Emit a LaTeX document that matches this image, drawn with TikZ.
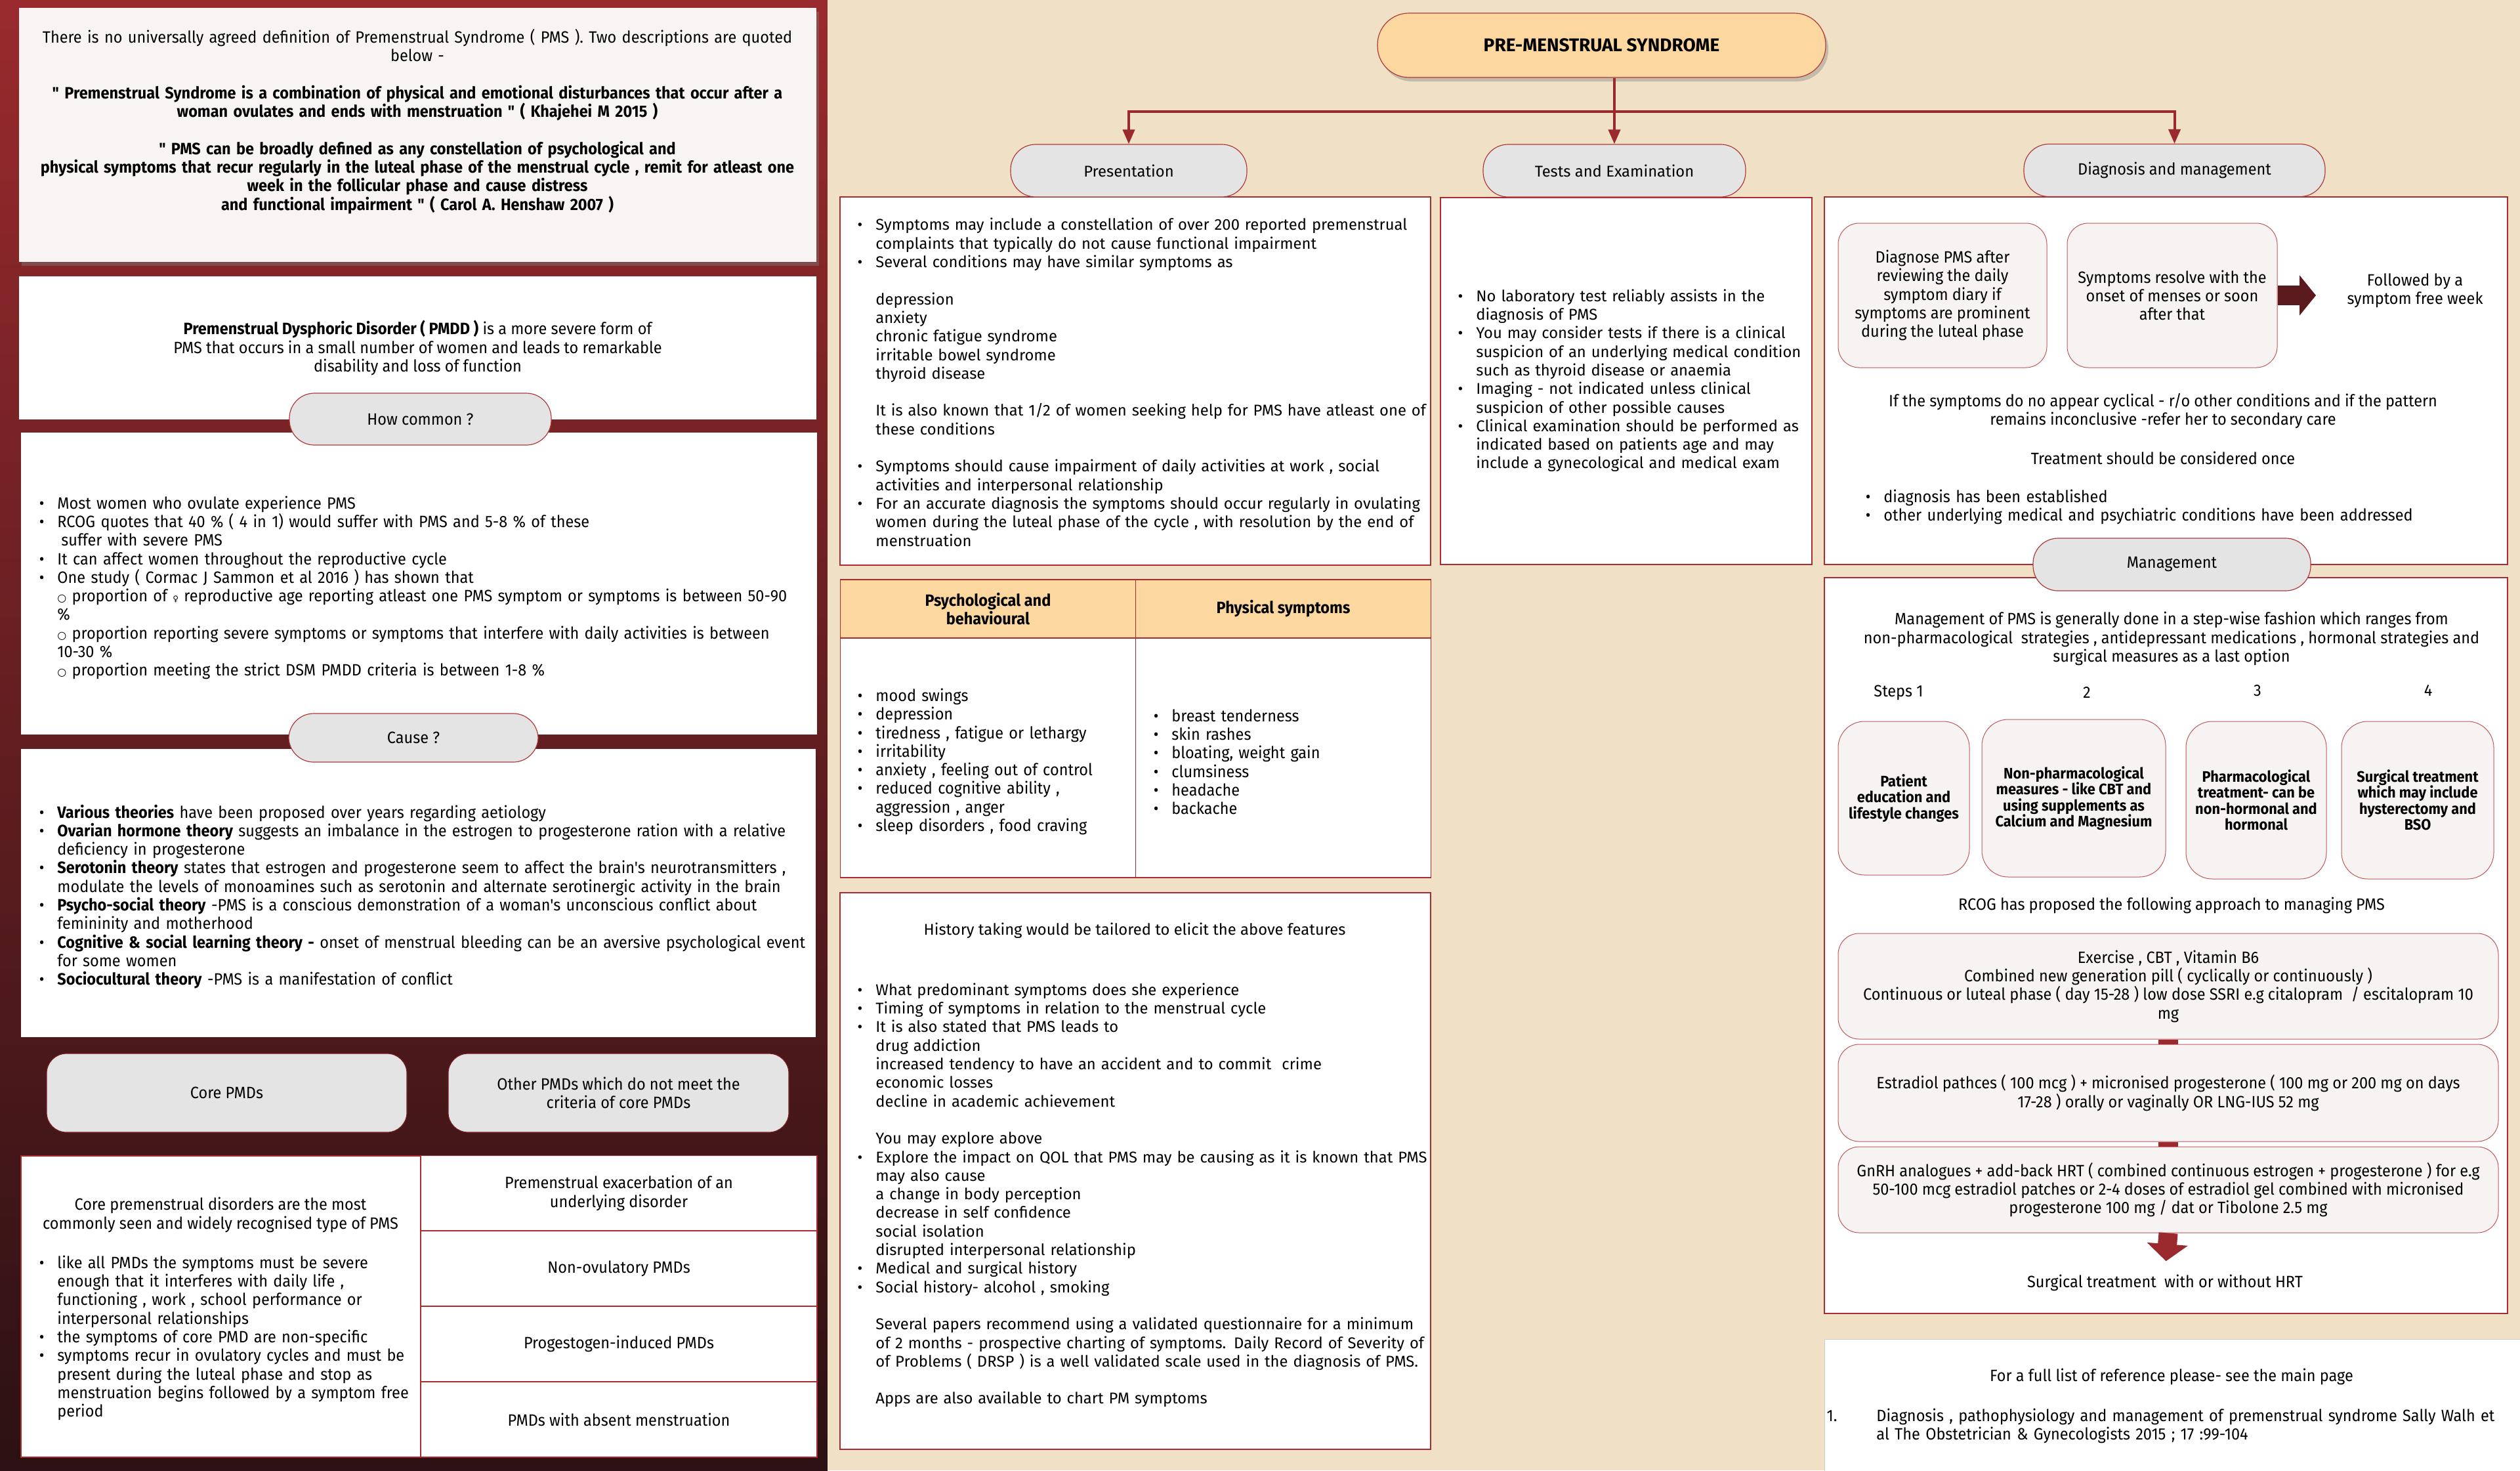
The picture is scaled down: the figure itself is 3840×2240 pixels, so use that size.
\documentclass[tikz,border=0pt]{standalone}
\usepackage{fontspec}
\setmainfont{Fira Sans}
\newfontfamily\condfont[FakeStretch=0.94]{Fira Sans}
\newfontfamily\symfont{DejaVu Sans}
\usepackage{enumitem}
\setlist[itemize]{label=\textbullet, leftmargin=15pt, labelsep=10pt, itemsep=0pt, topsep=0pt, parsep=0pt, partopsep=0pt}
\usetikzlibrary{arrows.meta, shadows}

\definecolor{lefttop}{RGB}{153,42,45}
\definecolor{leftbot}{RGB}{43,17,19}
\definecolor{beige}{RGB}{240,225,198}
\definecolor{offwhite}{RGB}{249,244,244}
\definecolor{boxred}{RGB}{168,44,48}
\definecolor{pillred}{RGB}{176,58,58}
\definecolor{pillgray}{RGB}{228,228,228}
\definecolor{peach}{RGB}{253,215,160}
\definecolor{softpink}{RGB}{248,243,243}
\definecolor{softred}{RGB}{190,90,90}
\definecolor{arrowred}{RGB}{154,42,46}
\definecolor{darkarrow}{RGB}{91,26,29}

\newcommand{\condtxt}{\condfont\fontsize{12.5}{14.15}\selectfont}
\newcommand{\plaintxt}{\fontsize{11.9}{14.15}\selectfont}
\newcommand{\steptxt}{\condfont\bfseries\fontsize{11.6}{12.25}\selectfont}
\newcommand{\circbul}{{\symfont\fontsize{8}{14.15}\selectfont ○}}
\newcommand{\femsym}{{\symfont\fontsize{6}{14.15}\selectfont ♀}}
\newcommand{\gap}{\\[14.15pt]}

\tikzset{
  panel/.style={draw=boxred, fill=white, line width=0.6pt, inner sep=0pt},
  cell/.style={draw=boxred, fill=white, line width=0.6pt, inner sep=0pt, align=center, font=\condtxt},
  pill/.style={draw=pillred, fill=pillgray, line width=0.6pt, rounded corners=19pt, inner sep=0pt, font=\condtxt},
  corepill/.style={draw=boxred!70!black, fill=pillgray, line width=0.6pt, rounded corners=15pt, inner sep=0pt, align=center, font=\condtxt},
  softbox/.style={draw=softred, fill=softpink, line width=0.5pt, rounded corners=16pt, inner sep=0pt, align=center, font=\condtxt},
  stepbox/.style={softbox, rounded corners=20pt, font=\steptxt},
  txt/.style={inner sep=0pt, align=center, font=\condtxt},
  listtxt/.style={inner sep=0pt, anchor=west, text width=#1, align=left, font=\condtxt},
  flow/.style={draw=arrowred, line width=2pt, -{Triangle[width=9pt,length=11pt]}},
  fatarrow/.style={draw=darkarrow, line width=15pt, -{Triangle[width=30pt,length=12.5pt]}},
  downarrow/.style={draw=arrowred, line width=14.5pt, -{Triangle[width=30.5pt,length=13pt]}},
  joiner/.style={draw=arrowred, line width=15pt},
  shadowed/.style={drop shadow={opacity=0.4, shadow xshift=2pt, shadow yshift=-3pt}}
}

\begin{document}
\begin{tikzpicture}[x=0.5pt, y=-0.5pt]
\useasboundingbox (0,0) rectangle (3840,2240);

% backgrounds
\shade[top color=lefttop, bottom color=leftbot] (0,0) rectangle (1261,2240);
\fill[beige] (1261,0) rectangle (3840,2240);

% ---------------- left column ----------------
\node[panel, draw=none, fill=offwhite, shadowed, minimum width=607.5pt, minimum height=193.5pt] (defbox) at (636.5,205.5) {};
\node[txt, text width=600pt] (deftext) at (636,185) {There is no universally agreed definition of Premenstrual Syndrome ( PMS ). Two descriptions are quoted\\
below -\gap
\textbf{" Premenstrual Syndrome is a combination of physical and emotional disturbances that occur after a}\\
\textbf{woman ovulates and ends with menstruation " ( Khajehei M 2015 )}\gap
\textbf{" PMS can be broadly defined as any constellation of psychological and}\\
\textbf{physical symptoms that recur regularly in the luteal phase of the menstrual cycle , remit for atleast one}\\
\textbf{week in the follicular phase and cause distress}\\
\textbf{and functional impairment " ( Carol A. Henshaw 2007 )}};

\node[panel, draw=none, minimum width=607.5pt, minimum height=109pt, align=center, font=\condtxt] (pmddbox) at (636.5,530)
  {\textbf{Premenstrual Dysphoric Disorder ( PMDD )} is a more severe form of\\
   PMS that occurs in a small number of women and leads to remarkable\\
   disability and loss of function};

% how common
\node[panel, draw=none, minimum width=606.5pt, minimum height=230pt] (commonbox) at (638.5,889) {};
\node[listtxt=640pt] (commontext) at (57,891) {\begin{itemize}
\item Most women who ovulate experience PMS
\item RCOG quotes that 40 \% ( 4 in 1) would suffer with PMS and 5-8 \% of these\\ \hspace*{3pt}suffer with severe PMS
\item It can affect women throughout the reproductive cycle
\item One study ( Cormac J Sammon et al 2016 ) has shown that\\
\circbul{} proportion of \femsym{} reproductive age reporting atleast one PMS symptom or symptoms is between 50-90\\
\%\\
\circbul{} proportion reporting severe symptoms or symptoms that interfere with daily activities is between\\
10-30 \%\\
\circbul{} proportion meeting the strict DSM PMDD criteria is between 1-8 \%
\end{itemize}};
\node[pill, minimum width=199.5pt, minimum height=39.5pt] (commonpill) at (640.5,638.5) {How common ?};

% cause
\node[panel, draw=none, minimum width=605.5pt, minimum height=219.5pt] (causebox) at (637.5,1360.5) {};
\node[listtxt=640pt] (causetext) at (57,1362) {\begin{itemize}
\item \textbf{Various theories} have been proposed over years regarding aetiology
\item \textbf{Ovarian hormone theory} suggests an imbalance in the estrogen to progesterone ration with a relative\\ deficiency in progesterone
\item \textbf{Serotonin theory} states that estrogen and progesterone seem to affect the brain's neurotransmitters ,\\ modulate the levels of monoamines such as serotonin and alternate serotinergic activity in the brain
\item \textbf{Psycho-social theory} -PMS is a conscious demonstration of a woman's unconscious conflict about\\ femininity and motherhood
\item \textbf{Cognitive \& social learning theory -} onset of menstrual bleeding can be an aversive psychological event\\ for some women
\item \textbf{Sociocultural theory} -PMS is a manifestation of conflict
\end{itemize}};
\node[pill, minimum width=190pt, minimum height=37pt] (causepill) at (630,1124) {Cause ?};

% core and other PMDs
\node[corepill, minimum width=274.5pt, minimum height=60pt] (corepmd) at (345.5,1665) {Core PMDs};
\node[corepill, minimum width=259.5pt, minimum height=60pt] (otherpmd) at (942.5,1665) {Other PMDs which do not meet the\\ criteria of core PMDs};

\node[cell, minimum width=304.5pt, minimum height=229.5pt] (corecell) at (336.5,1990.5) {};
\node[txt] (corehead) at (336,1851) {Core premenstrual disorders are the most\\ commonly seen and widely recognised type of PMS};
\node[listtxt=300pt] (corelist) at (57,2034) {\begin{itemize}
\item like all PMDs the symptoms must be severe\\ enough that it interferes with daily life ,\\ functioning , work , school performance or\\ interpersonal relationships
\item the symptoms of core PMD are non-specific
\item symptoms recur in ovulatory cycles and must be\\ present during the luteal phase and stop as\\ menstruation begins followed by a symptom free\\ period
\end{itemize}};
\foreach \n/\y/\t in {exac/1818/{Premenstrual exacerbation of an\\ underlying disorder},
                      nonov/1932.5/{Non-ovulatory PMDs},
                      progest/2047.5/{Progestogen-induced PMDs},
                      absent/2162.5/{PMDs with absent menstruation}}
  \node[cell, minimum width=302pt, minimum height=57.5pt] (\n) at (943,\y) {\t};

% ---------------- right part ----------------
\node[pill, fill=peach, shadowed, rounded corners=24pt, minimum width=341.5pt, minimum height=49pt, font=\fontsize{14}{16}\selectfont\bfseries] (title) at (2440.5,69) {PRE-MENSTRUAL SYNDROME};

% presentation
\node[panel, minimum width=450pt, minimum height=280.5pt] (presbox) at (1730,580.5) {};
\node[listtxt=470pt, font=\plaintxt] (prestext) at (1304,577.5) {\begin{itemize}
\item Symptoms may include a constellation of over 200 reported premenstrual\\ complaints that typically do not cause functional impairment
\item Several conditions may have similar symptoms as\gap
depression\\ anxiety\\ chronic fatigue syndrome\\ irritable bowel syndrome\\ thyroid disease\gap
It is also known that 1/2 of women seeking help for PMS have atleast one of\\ these conditions\vspace{14.15pt}
\item Symptoms should cause impairment of daily activities at work , social\\ activities and interpersonal relationship
\item For an accurate diagnosis the symptoms should occur regularly in ovulating\\ women during the luteal phase of the cycle , with resolution by the end of\\ menstruation
\end{itemize}};

% tests
\node[panel, minimum width=283pt, minimum height=279.5pt] (testsbox) at (2478,580.5) {};
\node[listtxt=290pt, font=\plaintxt] (teststext) at (2219,575) {\begin{itemize}
\item No laboratory test reliably assists in the\\ diagnosis of PMS
\item You may consider tests if there is a clinical\\ suspicion of an underlying medical condition\\ such as thyroid disease or anaemia
\item Imaging - not indicated unless clinical\\ suspicion of other possible causes
\item Clinical examination should be performed as\\ indicated based on patients age and may\\ include a gynecological and medical exam
\end{itemize}};

% diagnosis
\node[panel, minimum width=520.5pt, minimum height=280pt] (diagbox) at (3300.5,580) {};
\node[softbox, minimum width=159pt, minimum height=110pt] (diagnose) at (2960,450) {Diagnose PMS after\\ reviewing the daily\\ symptom diary if\\ symptoms are prominent\\ during the luteal phase};
\node[softbox, minimum width=160pt, minimum height=110pt] (resolve) at (3310,450) {Symptoms resolve with the\\ onset of menses or soon\\ after that};
\coordinate (fatend) at (3529,450);
\draw[fatarrow] (resolve.east) -- (fatend);
\node[txt] (followed) at (3680,443) {Followed by a\\ symptom free week};
\node[txt] (cyclical) at (3296,626) {If the symptoms do no appear cyclical - r/o other conditions and if the pattern\\ remains inconclusive -refer her to secondary care};
\node[txt] (treatonce) at (3296,698) {Treatment should be considered once};
\node[listtxt=480pt] (treatlist) at (2840,768) {\begin{itemize}
\item diagnosis has been established
\item other underlying medical and psychiatric conditions have been addressed
\end{itemize}};

% management
\node[panel, minimum width=520.5pt, minimum height=560.5pt] (mgmtbox) at (3300.5,1440.5) {};
\node[txt] (mgmtintro) at (3309,973) {Management of PMS is generally done in a step-wise fashion which ranges from\\ non-pharmacological \ strategies , antidepressant medications , hormonal strategies and\\ surgical measures as a last option};
\foreach \n/\x/\y/\t in {1/2893/1055/Steps 1, 2/3180/1055/2, 3/3440/1052/3, 4/3700/1052/4}
  \node[txt] (steplbl\n) at (\x,\y) {\t};
\node[stepbox, minimum width=100pt, minimum height=117pt] (stepa) at (2901,1216) {Patient\\ education and\\ lifestyle changes};
\node[stepbox, minimum width=140pt, minimum height=120pt] (stepb) at (3160,1216) {Non-pharmacological\\ measures - like CBT and\\ using supplements as\\ Calcium and Magnesium};
\node[stepbox, minimum width=107pt, minimum height=120pt] (stepc) at (3438,1219) {Pharmacological\\ treatment- can be\\ non-hormonal and\\ hormonal};
\node[stepbox, minimum width=116pt, minimum height=120pt] (stepd) at (3684,1219) {Surgical treatment\\ which may include\\ hysterectomy and\\ BSO};
\node[txt] (rcog) at (3309,1379) {RCOG has proposed the following approach to managing PMS};

\node[softbox, minimum width=503pt, minimum height=80.5pt] (optA) at (3304,1502.5) {Exercise , CBT , Vitamin B6\\ Combined new generation pill ( cyclically or continuously )\\ Continuous or luteal phase ( day 15-28 ) low dose SSRI e.g citalopram \ / escitalopram 10\\ mg};
\node[softbox, minimum width=503pt, minimum height=74pt] (optB) at (3304,1665) {Estradiol pathces ( 100 mcg ) + micronised progesterone ( 100 mg or 200 mg on days\\ 17-28 ) orally or vaginally OR LNG-IUS 52 mg};
\node[softbox, minimum width=503pt, minimum height=65.5pt] (optC) at (3304,1812.5) {GnRH analogues + add-back HRT ( combined continuous estrogen + progesterone ) for e.g\\ 50-100 mcg estradiol patches or 2-4 doses of estradiol gel combined with micronised\\ progesterone 100 mg / dat or Tibolone 2.5 mg};
\draw[joiner] (optA.south) -- (optB.north);
\draw[joiner] (optB.south) -- (optC.north);
\node[txt] (surg) at (3299,1954) {Surgical treatment \ with or without HRT};
\draw[downarrow, shorten >=10pt] (optC.south) -- (surg.north);

\node[pill, minimum width=211.5pt, minimum height=40pt] (mgmtpill) at (3309.5,860) {Management};

% references
\fill[white, draw=gray!40, line width=0.5pt] (2780,2040) rectangle (3841,2241);
\node[txt] (reftitle) at (3309,2097) {For a full list of reference please- see the main page};
\node[listtxt=560pt] (reftext) at (2787,2168) {\begin{itemize}[label=1., leftmargin=36pt, labelsep=30pt]
\item Diagnosis , pathophysiology and management of premenstrual syndrome Sally Walh et\\ al The Obstetrician \& Gynecologists 2015 ; 17 :99-104
\end{itemize}};

% symptom table
\node[cell, fill=peach, font=\condtxt\bfseries, minimum width=225pt, minimum height=44.5pt] (psychhdr) at (1505.5,927.5) {Psychological and\\ behavioural};
\node[cell, fill=peach, font=\condtxt\bfseries, minimum width=225pt, minimum height=44.5pt] (physhdr) at (1955.5,927.5) {Physical symptoms};
\node[cell, minimum width=225pt, minimum height=182.5pt] (psychcell) at (1505.5,1154.5) {};
\node[cell, minimum width=225pt, minimum height=182.5pt] (physcell) at (1955.5,1154.5) {};
\node[listtxt=230pt] (psychlist) at (1304,1156) {\begin{itemize}
\item mood swings
\item depression
\item tiredness , fatigue or lethargy
\item irritability
\item anxiety , feeling out of control
\item reduced cognitive ability ,\\ aggression , anger
\item sleep disorders , food craving
\end{itemize}};
\node[listtxt=220pt] (physlist) at (1755,1156) {\begin{itemize}
\item breast tenderness
\item skin rashes
\item bloating, weight gain
\item clumsiness
\item headache
\item backache
\end{itemize}};

% history
\node[panel, minimum width=450pt, minimum height=424pt] (histbox) at (1730,1784) {};
\node[txt, font=\plaintxt] (histtitle) at (1729,1418) {History taking would be tailored to elicit the above features};
\node[listtxt=470pt, font=\plaintxt] (histtext) at (1304,1816) {\begin{itemize}
\item What predominant symptoms does she experience
\item Timing of symptoms in relation to the menstrual cycle
\item It is also stated that PMS leads to\\ drug addiction\\ increased tendency to have an accident and to commit \ crime\\ economic losses\\ decline in academic achievement\gap
You may explore above
\item Explore the impact on QOL that PMS may be causing as it is known that PMS\\ may also cause\\ a change in body perception\\ decrease in self confidence\\ social isolation\\ disrupted interpersonal relationship
\item Medical and surgical history
\item Social history- alcohol , smoking\gap
Several papers recommend using a validated questionnaire for a minimum\\ of 2 months - prospective charting of symptoms. Daily Record of Severity of\\ of Problems ( DRSP ) is a well validated scale used in the diagnosis of PMS.\gap
Apps are also available to chart PM symptoms
\end{itemize}};

% top-level connectors
\node[pill, minimum width=180pt, minimum height=40pt, font=\plaintxt] (prespill) at (1720,260) {Presentation};
\node[pill, minimum width=200pt, minimum height=40pt, font=\plaintxt] (testspill) at (2460,260) {Tests and Examination};
\node[pill, minimum width=229.5pt, minimum height=40pt] (diagpill) at (3313.5,259.5) {Diagnosis and management};
\coordinate (hub) at (2460,170);
\draw[flow] (title.south -| hub) -- (testspill.north);
\draw[flow] (hub) -| (prespill.north);
\draw[flow] (hub) -| (diagpill.north);
\end{tikzpicture}
\end{document}
